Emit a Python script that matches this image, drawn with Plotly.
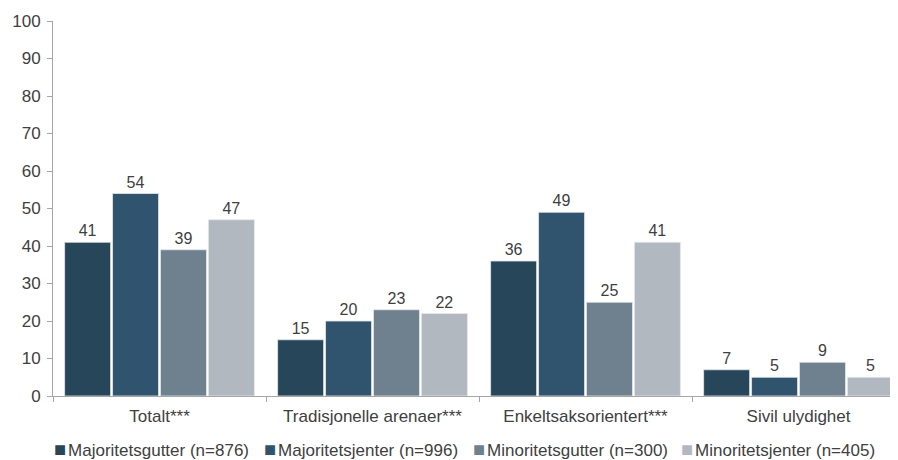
import plotly.graph_objects as go

categories = ["Totalt***", "Tradisjonelle arenaer***", "Enkeltsaksorientert***", "Sivil ulydighet"]
series_names = ["Majoritetsgutter (n=876)", "Majoritetsjenter (n=996)", "Minoritetsgutter (n=300)", "Minoritetsjenter (n=405)"]
maj_gutter = [41, 15, 36, 7]
maj_jenter = [54, 20, 49, 5]
min_gutter = [39, 23, 25, 9]
min_jenter = [47, 22, 41, 5]
y_ticks = [0, 10, 20, 30, 40, 50, 60, 70, 80, 90, 100]

colors = ["#28465a", "#30546d", "#6f818e", "#b1b8c0"]
series = [maj_gutter, maj_jenter, min_gutter, min_jenter]

font_family = "Liberation Sans, Arial, sans-serif"
text_color = "#404040"

fig = go.Figure()
for name, vals, c in zip(series_names, series, colors):
    fig.add_trace(go.Bar(
        x=categories, y=vals, name=name,
        marker=dict(color=c, line=dict(color="#e4e8eb", width=0.8)),
        text=[str(v) for v in vals], textposition="outside",
        textfont=dict(size=16, color=text_color, family=font_family),
        cliponaxis=False, showlegend=False,
    ))

# legend drawn as text entries with coloured square keys
legend_x = [0.0005, 0.2485, 0.4955, 0.7425]
for name, c, lx in zip(series_names, colors, legend_x):
    fig.add_annotation(
        xref="paper", yref="paper", x=lx, y=-0.141, xanchor="left", yanchor="middle",
        text=f'<span style="color:{c};font-size:20px">■</span><span style="font-size:7px"> </span>{name}',
        showarrow=False, font=dict(size=17, color=text_color, family=font_family),
        borderpad=0,
    )

fig.update_layout(
    width=890, height=452,
    margin=dict(l=45, r=0, t=13, b=64, autoexpand=False),
    paper_bgcolor="white", plot_bgcolor="white",
    barmode="group", bargap=0.1, bargroupgap=0.04,
    font=dict(family=font_family, size=17, color=text_color),
    showlegend=False,
)
fig.update_xaxes(
    range=[-0.5, 3.467], automargin=False,
    showline=True, linecolor="#a6a6a6", linewidth=1,
    ticks="outside", tickson="boundaries", ticklen=5, tickcolor="#a6a6a6",
    tickfont=dict(size=17, color=text_color), showgrid=False,
    ticklabelstandoff=5,
)
fig.update_yaxes(
    range=[0, 100], tickvals=y_ticks, automargin=False,
    showline=True, linecolor="#a6a6a6", linewidth=1,
    ticks="outside", ticklen=5, tickcolor="#a6a6a6",
    tickfont=dict(size=17, color=text_color), showgrid=False, zeroline=False,
    ticklabelstandoff=3,
)
fig.write_html("out.html")
